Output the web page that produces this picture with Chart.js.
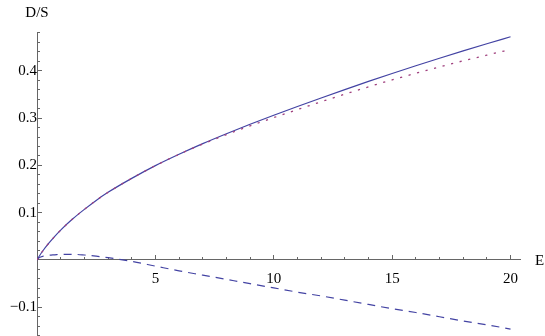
<!DOCTYPE html>
<html>
<head>
<meta charset="utf-8">
<script src="https://cdn.jsdelivr.net/npm/chart.js@4"></script>
<style>
  body { margin: 0; background: #fff; }
  #caja { width: 545px; height: 336px; }
</style>
</head>
<body>
<div id="caja"><canvas id="grafica"></canvas></div>
<script>
// valores
const energia = [0, 0.1, 0.25, 0.5, 0.75, 1, 1.5, 2, 2.5, 3, 4, 5, 6, 7, 8, 9, 10, 11, 12, 13, 14, 15, 16, 17, 18, 19, 20]
const total = [0, 0.0085, 0.0195, 0.0355, 0.050, 0.0632, 0.0865, 0.107, 0.126, 0.143, 0.1725, 0.1995, 0.2235, 0.246, 0.267, 0.287, 0.306, 0.3245, 0.3425, 0.3602, 0.3775, 0.3943, 0.4106, 0.4265, 0.442, 0.4571, 0.472]
const aproximada = [0, 0.0085, 0.0195, 0.0355, 0.050, 0.0632, 0.0865, 0.107, 0.126, 0.143, 0.1725, 0.1995, 0.2235, 0.2452, 0.265, 0.2835, 0.301, 0.318, 0.3345, 0.3505, 0.366, 0.3808, 0.3948, 0.4082, 0.421, 0.4331, 0.445]
const correccion = [0, 0.005, 0.008, 0.010, 0.011, 0.012, 0.012, 0.0105, 0.008, 0.005, -0.003, -0.013, -0.023, -0.032, -0.041, -0.050, -0.059, -0.068, -0.076, -0.085, -0.094, -0.103, -0.111, -0.120, -0.129, -0.137, -0.146]

const ticksX = [5, 10, 15, 20]
const ticksY = [-0.1, 0.1, 0.2, 0.3, 0.4]

const azul = "#4343a3"
const morado = "#a0407e"
const gris = "#666666"
const fuente = { family: "Liberation Serif", size: 15 }

function puntos(valores) {
    return energia.map((e, i) => ({ x: e, y: valores[i] }))
}

function etiquetaX(v) {
    return ticksX.includes(v) ? String(v) : ""
}

function etiquetaY(v) {
    const r = Math.round(v * 10) / 10
    if (Math.abs(v - r) > 1e-9) return ""
    if (!ticksY.some(t => Math.abs(t - r) < 1e-9)) return ""
    return r < 0 ? "\u2212" + Math.abs(r) : String(r)
}

// los ejes cruzan en el origen: que no ocupen sitio en el layout
function sinSitio(s) {
    if (s.isHorizontal()) s.height = 0
    else s.width = 0
    s.paddingTop = 0
    s.paddingBottom = 0
    s.paddingLeft = 0
    s.paddingRight = 0
}

const titulos = {
    id: "titulos",
    afterDraw(chart) {
        const c = chart.ctx
        const x = chart.scales.x
        const y = chart.scales.y
        c.save()
        c.fillStyle = "#000"
        c.font = "15px 'Liberation Serif'"
        c.textBaseline = "middle"
        c.textAlign = "center"
        c.fillText("D/S", x.getPixelForValue(0), 13)
        c.textAlign = "left"
        c.fillText("E", x.right + 15, y.getPixelForValue(0) + 1)
        c.restore()
    }
}

function crearGrafica() {
    const ctx = document.getElementById("grafica").getContext("2d")
    new Chart(ctx, {
        type: "line",
        data: {
            datasets: [{
                data: puntos(aproximada),
                borderColor: morado,
                borderWidth: 1.3,
                borderDash: [2.2, 6.6],
                order: 0
            }, {
                data: puntos(total),
                borderColor: azul,
                borderWidth: 1.2,
                order: 1
            }, {
                data: puntos(correccion),
                borderColor: azul,
                borderWidth: 1.2,
                borderDash: [8, 6],
                order: 2
            }]
        },
        options: {
            responsive: true,
            maintainAspectRatio: false,
            animation: false,
            layout: { padding: { left: 37, right: 25, top: 32, bottom: 0 } },
            elements: {
                point: { radius: 0 },
                line: { cubicInterpolationMode: "monotone", fill: false }
            },
            plugins: { legend: { display: false }, tooltip: { enabled: false } },
            scales: {
                x: {
                    type: "linear", min: 0, max: 20.4,
                    position: { y: 0 },
                    afterFit: sinSitio,
                    border: { color: gris, width: 1 },
                    grid: { drawOnChartArea: false, tickLength: -5, color: gris },
                    ticks: { stepSize: 5, includeBounds: false, autoSkip: false, maxRotation: 0,
                        color: "#000", font: fuente, padding: 15, callback: etiquetaX }
                },
                xMenor: {
                    axis: "x", type: "linear", min: 0, max: 20.4,
                    position: { y: 0 },
                    afterFit: sinSitio,
                    border: { display: false },
                    grid: { drawOnChartArea: false, tickLength: -3, color: gris },
                    ticks: { stepSize: 1, includeBounds: false, autoSkip: false, display: false }
                },
                y: {
                    type: "linear", min: -0.1607, max: 0.482,
                    position: { x: 0 },
                    afterFit: sinSitio,
                    border: { color: gris, width: 1 },
                    grid: { drawOnChartArea: false, tickLength: -5, color: gris },
                    ticks: { stepSize: 0.1, includeBounds: false, autoSkip: false,
                        color: "#000", font: fuente, padding: 11, callback: etiquetaY }
                },
                yMenor: {
                    axis: "y", type: "linear", min: -0.1607, max: 0.482,
                    position: { x: 0 },
                    afterFit: sinSitio,
                    border: { display: false },
                    grid: { drawOnChartArea: false, tickLength: -3, color: gris },
                    ticks: { stepSize: 0.02, includeBounds: false, autoSkip: false, display: false }
                }
            }
        },
        plugins: [titulos]
    })
}

crearGrafica()
</script>
</body>
</html>
